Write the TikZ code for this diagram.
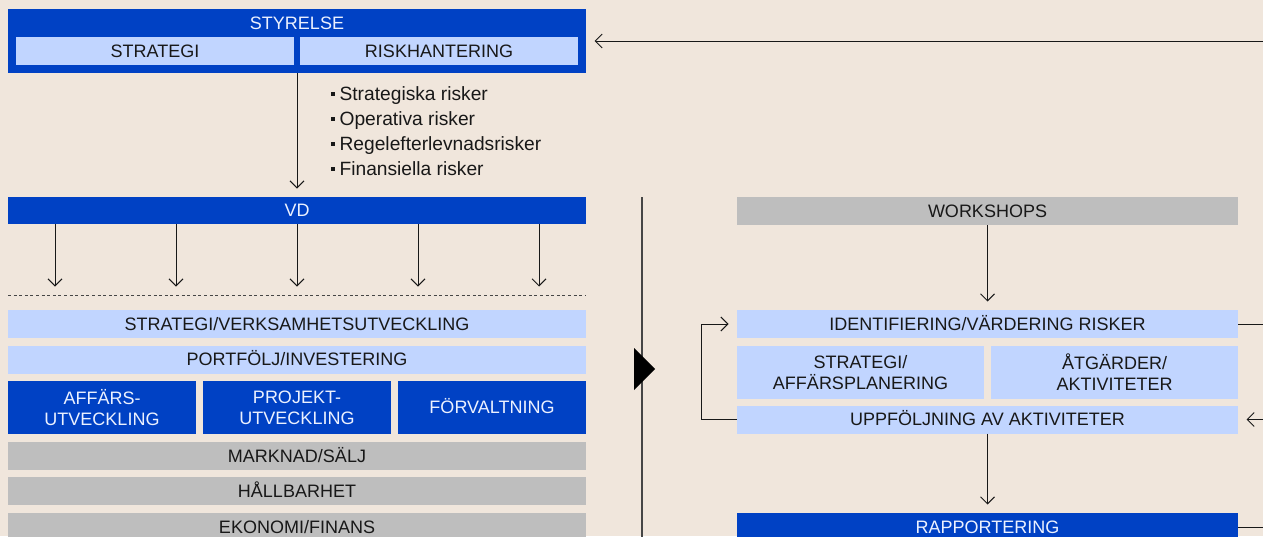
\documentclass[tikz,border=0pt]{standalone}
\usepackage{fontspec}
\setmainfont{Liberation Sans}
\usetikzlibrary{arrows.meta}

\definecolor{paper}{RGB}{240,230,220}
\definecolor{royal}{RGB}{0,65,196}
\definecolor{pale}{RGB}{193,213,255}
\definecolor{stone}{RGB}{190,190,190}
\definecolor{ink}{RGB}{24,24,24}
\definecolor{snow}{RGB}{236,241,255}
\definecolor{rulegrey}{RGB}{70,70,70}

% small square bullet for the risk list
\newcommand\sqmark{\rule[5pt]{3.6pt}{3.6pt}\hspace{5pt}}

\begin{document}
\begin{tikzpicture}[x=1pt,y=-1pt,
  every node/.style={inner sep=0pt,outer sep=0pt},
  boxsize/.style n args={2}{minimum width=#1pt,minimum height=#2pt},
  boxtext/.style={font=\fontsize{18}{21}\selectfont,align=center},
  oneline/.style={text height=12.8pt,text depth=0pt},
  bluebox/.style={fill=royal,text=snow,boxtext},
  palebox/.style={fill=pale,text=ink,boxtext},
  greybox/.style={fill=stone,text=ink,boxtext},
  listtext/.style={font=\fontsize{19.2}{24}\selectfont,text=ink,anchor=base west},
  arr/.style={draw=ink,line width=1pt,-{Straight Barb[length=7pt,width=14pt]},shorten >=8.5pt},
  wire/.style={draw=ink,line width=1pt},
]
\useasboundingbox (0,0) rectangle (1263,536);
\clip (0,0) rectangle (1263,536);
\fill[paper] (0,0) rectangle (1263,536);

% ---------- board ----------
\node[fill=royal,boxsize={578}{64}] (sty) at (297,41) {};
\node[boxtext,text=snow,oneline] (styT) at (297,23) {STYRELSE};
\node[palebox,oneline,boxsize={278}{28}] (strat) at (155,51) {STRATEGI};
\node[palebox,oneline,boxsize={278}{28}] (risk) at (439,51) {RISKHANTERING};

\coordinate (inA) at (1263,41);
\draw[arr] (inA) -- (sty.east |- inA);

% ---------- risk categories ----------
\node[listtext] (b1) at (331,100.5) {\sqmark Strategiska risker};
\node[listtext] (b2) at (331,125.5) {\sqmark Operativa risker};
\node[listtext] (b3) at (331,150.5) {\sqmark Regelefterlevnadsrisker};
\node[listtext] (b4) at (331,175.5) {\sqmark Finansiella risker};

% ---------- CEO ----------
\node[bluebox,oneline,boxsize={578}{27}] (vd) at (297,210.5) {VD};
\draw[arr] (sty.south) -- (vd.north);

\coordinate (dashL) at (8,295);
\coordinate (dashR) at (586,295);
\draw[draw=rulegrey,line width=1pt,dash pattern=on 3pt off 2.6pt] (dashL) -- (dashR);
\foreach \n/\x in {t1/55,t2/176,t3/297,t4/418,t5/539}{
  \coordinate (\n) at (\x,295);
  \draw[arr] (vd.south -| \n) -- (\n);
}

% ---------- organisation ----------
\node[palebox,oneline,boxsize={578}{28}] (sv) at (297,324) {STRATEGI/VERKSAMHETSUTVECKLING};
\node[palebox,oneline,boxsize={578}{28}] (pi) at (297,359.5) {PORTFÖLJ/INVESTERING};
\node[bluebox,boxsize={188}{53}] (au) at (102,407.5) {AFFÄRS-\\UTVECKLING};
\node[bluebox,boxsize={188}{53}] (pu) at (297,407.5) {PROJEKT-\\UTVECKLING};
\node[bluebox,oneline,boxsize={188}{53}] (fv) at (492,407.5) {FÖRVALTNING};
\node[greybox,oneline,boxsize={578}{28}] (ms) at (297,456) {MARKNAD/SÄLJ};
\node[greybox,oneline,boxsize={578}{28}] (hb) at (297,491) {HÅLLBARHET};
\node[greybox,boxsize={578}{28}] (ef) at (297,527) {\rule{0pt}{12.8pt}EKONOMI/FINANS};

% ---------- divider ----------
\coordinate (divTop) at (642,197);
\coordinate (divBot) at (642,540);
\draw[draw=rulegrey,line width=1.5pt] (divTop) -- (divBot);
\fill[black] (634,348) -- (655,369) -- (634,390) -- cycle;

% ---------- risk process ----------
\node[greybox,oneline,boxsize={501}{28}] (ws) at (987.5,211) {WORKSHOPS};
\node[palebox,oneline,boxsize={501}{28}] (id) at (987.5,324) {IDENTIFIERING/VÄRDERING RISKER};
\node[palebox,boxsize={247}{53}] (sa) at (860.5,372.5) {STRATEGI/\\AFFÄRSPLANERING};
\node[palebox,boxsize={247}{53}] (aa) at (1114.5,372.5) {ÅTGÄRDER/\\AKTIVITETER};
\node[palebox,oneline,boxsize={501}{28}] (up) at (987.5,419.5) {UPPFÖLJNING AV AKTIVITETER};
\node[bluebox,boxsize={501}{28}] (rap) at (987.5,527) {\rule{0pt}{12.8pt}RAPPORTERING};

\draw[arr] (ws.south) -- (id.north);
\draw[arr] (up.west) -- ++(-36,0) |- (id.west);
\draw[arr] (up.south) -- (rap.north);

\coordinate (idOut) at (1263,324);
\coordinate (upIn) at (1263,419.5);
\coordinate (rapOut) at (1263,527);
\draw[wire] (id.east) -- (idOut);
\draw[arr] (upIn) -- (up.east);
\draw[wire] (rap.east) -- (rapOut);
\end{tikzpicture}
\end{document}
